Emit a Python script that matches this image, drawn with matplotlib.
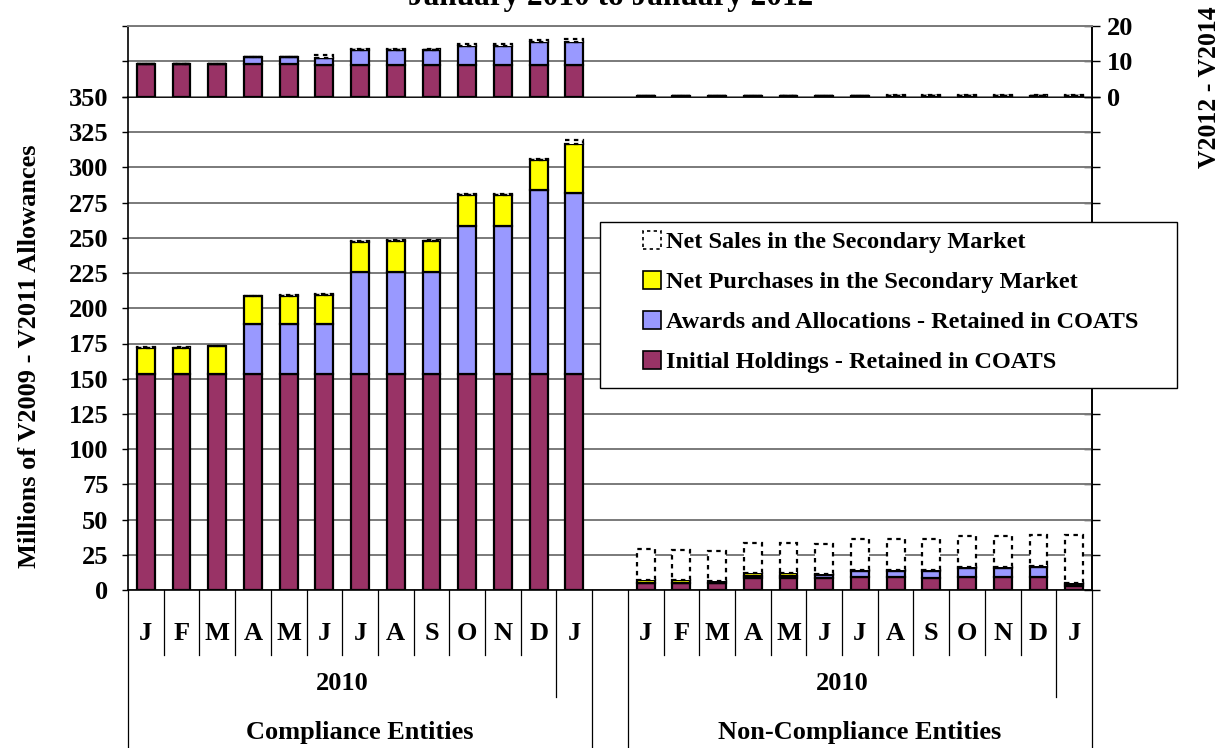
import numpy as np
import matplotlib
matplotlib.use('Agg')
import matplotlib.pyplot as plt
from matplotlib.patches import Patch, Rectangle
from matplotlib.transforms import blended_transform_factory

plt.rcParams['font.family'] = ['Liberation Serif', 'DejaVu Serif']
plt.rcParams['font.weight'] = 'bold'

months = ['J', 'F', 'M', 'A', 'M', 'J', 'J', 'A', 'S', 'O', 'N', 'D', 'J']
year_label = '2010'
groups = ['Compliance Entities', 'Non-Compliance Entities']
series_names = ['Initial Holdings - Retained in COATS',
                'Awards and Allocations - Retained in COATS',
                'Net Purchases in the Secondary Market',
                'Net Sales in the Secondary Market']

# Millions of V2009 - V2011 allowances (lower panel)
comp_initial = [153.5] * 13
comp_awards = [0, 0, 0, 35, 35, 35, 72, 72, 72, 105, 105, 130.5, 128.5]
comp_purch = [18, 18, 19.5, 20, 20, 21, 21.5, 22, 22, 22, 22, 21.5, 34.5]
comp_sales = [1, 1, 0, 0, 0.6, 0.6, 0.6, 0.8, 0.8, 0.8, 0.6, 0.6, 3]

nonc_initial = [5.2, 5.2, 4.8, 8.3, 8.6, 8.3, 9.0, 9.0, 8.3, 9.0, 9.0, 9.0, 3.1]
nonc_awards = [0, 0, 0, 1.8, 1.6, 2.5, 4.7, 4.7, 5.4, 6.9, 6.9, 7.6, 1.5]
nonc_purch = [1.9, 1.7, 1.5, 1.8, 1.8, 0.5, 0.5, 0.5, 0.3, 0.3, 0.3, 0.3, 0.6]
nonc_sales = [21.8, 21.8, 21.6, 21.7, 21.6, 21.4, 22.2, 22.2, 22.4, 22.4, 22.4, 22.4, 34.1]

# Millions of V2012 - V2014 allowances (upper panel)
comp_initial_u = [9.2, 9.2, 9.2, 9.2, 9.2, 8.9, 8.9, 8.9, 8.9, 8.9, 8.9, 8.9, 8.9]
comp_awards_u = [0, 0, 0, 2.1, 2.1, 2.1, 4.3, 4.3, 4.3, 5.5, 5.5, 6.6, 6.5]
comp_purch_u = [0] * 13
comp_sales_u = [0, 0, 0, 0, 0, 0.7, 0.3, 0.3, 0.3, 0.4, 0.4, 0.5, 0.9]

nonc_initial_u = [0.35, 0.35, 0.35, 0.35, 0.35, 0.35, 0.35, 0.2, 0.2, 0.2, 0.2, 0.2, 0.2]
nonc_awards_u = [0] * 13
nonc_purch_u = [0] * 13
nonc_sales_u = [0, 0, 0, 0, 0, 0, 0, 0.3, 0.3, 0.3, 0.3, 0.3, 0.5]

colors = ['#993366', '#9999FF', '#FFFF00', 'white']

x_comp = np.arange(13)
x_nonc = np.arange(14, 27)

W, H = 1222, 748
fig = plt.figure(figsize=(W / 100, H / 100), dpi=100)

def frac(x0, y0, x1, y1):
    return [x0 / W, 1 - y1 / H, (x1 - x0) / W, (y1 - y0) / H]

ax = fig.add_axes(frac(128, 97, 1092, 590))
ax_u = fig.add_axes(frac(128, 26, 1092, 97), sharex=ax)

FS = 19


def draw_stack(a, x, layers):
    bottom = np.zeros(len(x))
    for i, vals in enumerate(layers):
        vals = np.array(vals, dtype=float)
        if i == 3:
            a.bar(x, vals, 0.5, bottom=bottom, facecolor='white', edgecolor='black',
                  linewidth=1.6, linestyle=(0, (2, 2)), zorder=3)
        else:
            a.bar(x, vals, 0.5, bottom=bottom, facecolor=colors[i], edgecolor='black',
                  linewidth=1.6, zorder=3)
        bottom = bottom + vals


draw_stack(ax, x_comp, [comp_initial, comp_awards, comp_purch, comp_sales])
draw_stack(ax, x_nonc, [nonc_initial, nonc_awards, nonc_purch, nonc_sales])
draw_stack(ax_u, x_comp, [comp_initial_u, comp_awards_u, comp_purch_u, comp_sales_u])
draw_stack(ax_u, x_nonc, [nonc_initial_u, nonc_awards_u, nonc_purch_u, nonc_sales_u])

# lower axes
ax.set_xlim(-0.5, 26.5)
ax.set_ylim(0, 350)
ax.set_yticks(np.arange(0, 351, 25))
ax.tick_params(axis='y', direction='out', length=4, width=1, labelsize=FS, pad=10)
ax.tick_params(axis='x', bottom=False, labelbottom=False)
ax.grid(axis='y', color='#7a7a7a', linewidth=1.4)
ax.set_axisbelow(True)
for s in ['left', 'right', 'top', 'bottom']:
    ax.spines[s].set_color('black')
    ax.spines[s].set_linewidth(1.2)
sec = ax.secondary_yaxis('right')
sec.set_yticks(np.arange(0, 351, 25))
sec.tick_params(direction='inout', length=12, width=1, labelright=False)
sec.spines['right'].set_linewidth(1.2)
fig.text(30 / W, 1 - 356 / H, 'Millions of V2009 - V2011 Allowances', rotation=90,
         ha='center', va='center', fontsize=FS, fontweight='bold')

# upper axes
ax_u.set_ylim(0, 20)
ax_u.set_yticks([0, 10, 20])
ax_u.tick_params(axis='y', direction='out', length=4, width=1, labelleft=False)
ax_u.tick_params(axis='x', bottom=False, labelbottom=False)
ax_u.grid(axis='y', color='#7a7a7a', linewidth=1.4)
ax_u.set_axisbelow(True)
ax_u.spines['bottom'].set_visible(False)
ax_u.spines['top'].set_color('#7a7a7a')
ax_u.spines['top'].set_linewidth(1.4)
ax_u.spines['left'].set_linewidth(1.2)
ax_u.spines['right'].set_linewidth(1.2)
sec_u = ax_u.secondary_yaxis('right')
sec_u.set_yticks([0, 10, 20])
sec_u.tick_params(direction='inout', length=12, width=1, labelsize=FS, pad=5)
sec_u.spines['right'].set_linewidth(1.2)
fig.text(1210 / W, 1 - 87 / H, 'V2012 - V2014', rotation=90, ha='center', va='center',
         fontsize=18.5, fontweight='bold')

# category axis labels
tr = blended_transform_factory(ax.transData, ax.transAxes)


def ypx(y):
    return (590 - y) / 493


line_kw = dict(color='black', linewidth=0.9, transform=tr, clip_on=False)
for start in (0, 14):
    ax.plot([start - 0.5] * 2, [0, ypx(748)], **line_kw)
    ax.plot([start + 12.5] * 2, [0, ypx(748)], **line_kw)
    ax.plot([start + 11.5] * 2, [0, ypx(697)], **line_kw)
    for k in range(11):
        ax.plot([start + k + 0.5] * 2, [0, ypx(655)], **line_kw)
    for k, m in enumerate(months):
        ax.text(start + k, ypx(634), m, transform=tr, ha='center', va='center',
                fontsize=FS, fontweight='bold')
    ax.text(start + 5.5, ypx(683), year_label, transform=tr, ha='center', va='center',
            fontsize=FS, fontweight='bold')
ax.text(6, ypx(733), groups[0], transform=tr, ha='center', va='center',
        fontsize=FS, fontweight='bold')
ax.text(20, ypx(733), groups[1], transform=tr, ha='center', va='center',
        fontsize=FS, fontweight='bold')

# title (cut at the top edge, as in the source)
fig.text(0.5, 1 - 5 / H, 'January 2010 to January 2012', ha='center', va='baseline',
         fontsize=22.5, fontweight='bold')

# legend
fig.add_artist(Rectangle((600 / W, 1 - 388 / H), 577 / W, 166 / H, transform=fig.transFigure,
                         facecolor='white', edgecolor='black', linewidth=1.0, zorder=5))
handles = [Patch(facecolor='white', edgecolor='black', linestyle=(0, (2, 2)), linewidth=1.2),
           Patch(facecolor=colors[2], edgecolor='black', linewidth=1.2),
           Patch(facecolor=colors[1], edgecolor='black', linewidth=1.2),
           Patch(facecolor=colors[0], edgecolor='black', linewidth=1.2)]
labels = [series_names[3], series_names[2], series_names[1], series_names[0]]
leg = fig.legend(handles, labels, loc='upper left', bbox_to_anchor=(643 / W, 1 - 231 / H),
                 fontsize=17.5, frameon=False, handlelength=0.74,
                 handleheight=0.74, handletextpad=0.2, labelspacing=0.73,
                 borderpad=0, borderaxespad=0)
leg.set_zorder(6)
for t in leg.get_texts():
    t.set_fontweight('bold')

fig.savefig('out.png', dpi=100)
